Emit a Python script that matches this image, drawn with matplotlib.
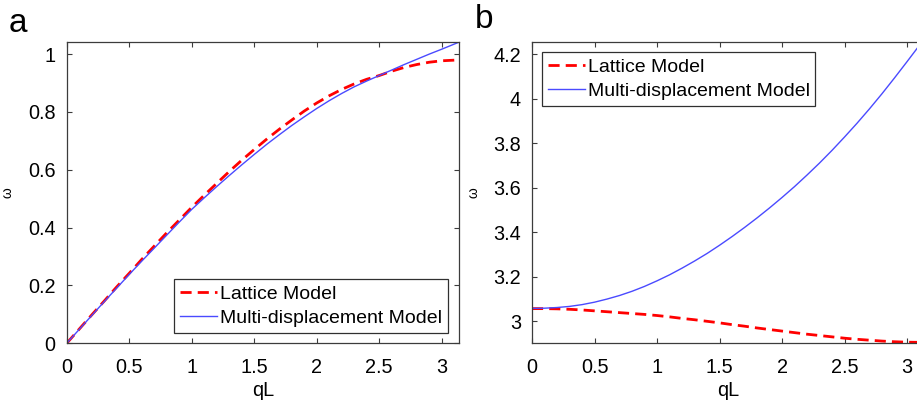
import numpy as np
import matplotlib
matplotlib.use("Agg")
import matplotlib.pyplot as plt

plt.rcParams['font.family'] = ['Liberation Sans', 'DejaVu Sans']

# ---- data ----
qL = [0.0, 0.1, 0.2, 0.3, 0.4, 0.5, 0.6, 0.7, 0.8, 0.9, 1.0, 1.1, 1.2, 1.3, 1.4, 1.5,
      1.6, 1.7, 1.8, 1.9, 2.0, 2.1, 2.2, 2.3, 2.4, 2.5, 2.6, 2.7, 2.8, 2.9, 3.0, 3.1416]

# panel a (acoustic branch)
lattice_a = [0.000, 0.049, 0.098, 0.146, 0.195, 0.242, 0.290, 0.336, 0.382, 0.426,
             0.470, 0.512, 0.553, 0.594, 0.633, 0.670, 0.706, 0.740, 0.772, 0.803,
             0.831, 0.856, 0.878, 0.897, 0.913, 0.926, 0.941, 0.954, 0.964, 0.972,
             0.977, 0.980]
multi_a = [0.000, 0.048, 0.096, 0.144, 0.191, 0.238, 0.284, 0.329, 0.374, 0.419,
           0.463, 0.503, 0.542, 0.580, 0.617, 0.653, 0.688, 0.721, 0.753, 0.783,
           0.812, 0.839, 0.864, 0.887, 0.907, 0.926, 0.945, 0.964, 0.982, 1.000,
           1.017, 1.042]

# panel b (optical branch)
lattice_b = [3.056, 3.056, 3.055, 3.053, 3.050, 3.046, 3.042, 3.038, 3.034, 3.030,
             3.025, 3.019, 3.012, 3.006, 2.999, 2.992, 2.984, 2.977, 2.969, 2.962,
             2.955, 2.948, 2.941, 2.935, 2.929, 2.923, 2.918, 2.914, 2.910, 2.907,
             2.905, 2.904]
multi_b = [3.057, 3.058, 3.061, 3.066, 3.074, 3.085, 3.099, 3.115, 3.134, 3.156,
           3.181, 3.208, 3.238, 3.270, 3.304, 3.341, 3.380, 3.421, 3.464, 3.509,
           3.556, 3.605, 3.657, 3.711, 3.768, 3.828, 3.890, 3.955, 4.023, 4.094,
           4.167, 4.272]

xticks = [0, 0.5, 1, 1.5, 2, 2.5, 3]
xticklabels = ['0', '0.5', '1', '1.5', '2', '2.5', '3']
yticks_a = [0, 0.2, 0.4, 0.6, 0.8, 1.0]
yticklabels_a = ['0', '0.2', '0.4', '0.6', '0.8', '1']
yticks_b = [3.0, 3.2, 3.4, 3.6, 3.8, 4.0, 4.2]
yticklabels_b = ['3', '3.2', '3.4', '3.6', '3.8', '4', '4.2']
labels = ['Lattice Model', 'Multi-displacement Model']
panel_letters = ['a', 'b']

W, H = 917, 401
fig = plt.figure(figsize=(W / 100, H / 100), dpi=100)

ax_w = 392.7 / W
ax_h = 301.6 / H
ax_b = (H - 343.3) / H
ax1 = fig.add_axes([66.7 / W, ax_b, ax_w, ax_h])
ax2 = fig.add_axes([532.0 / W, ax_b, ax_w, ax_h])

red = '#ff0000'
blue = '#4a4aff'
spine_c = '#3c3c3c'
fs = 14.3

def style(ax, yt, ytl, ylim):
    ax.set_xlim(0, np.pi)
    ax.set_ylim(*ylim)
    ax.set_xticks(xticks)
    ax.set_xticklabels(xticklabels)
    ax.set_yticks(yt)
    ax.set_yticklabels(ytl)
    ax.tick_params(direction='in', length=3.5, width=0.8, color=spine_c,
                   top=True, right=True, labelsize=fs)
    ax.tick_params(axis='x', pad=10.5)
    ax.tick_params(axis='y', pad=8)
    for s in ax.spines.values():
        s.set_color(spine_c)
        s.set_linewidth(0.9)
    ax.set_xlabel('qL', fontsize=fs, va='baseline')
    ax.xaxis.set_label_coords(0.5, (343.3 - 396.5) / 301.6)
    ax.set_ylabel('ω', fontsize=10)
    ax.yaxis.set_label_coords(-0.132, 0.5)

ax1.plot(qL, lattice_a, '--', color=red, lw=2.0, dashes=(4, 2.2), label=labels[0])
ax1.plot(qL, multi_a, '-', color=blue, lw=1.0, label=labels[1])
style(ax1, yticks_a, yticklabels_a, (0, 1.043))

ax2.plot(qL, lattice_b, '--', color=red, lw=2.0, dashes=(4, 2.2), label=labels[0])
ax2.plot(qL, multi_b, '-', color=blue, lw=1.0, label=labels[1])
style(ax2, yticks_b, yticklabels_b, (2.9, 4.257))

leg_kw = dict(fontsize=14.0, fancybox=False, framealpha=1, edgecolor='#303030',
              handlelength=1.9, handletextpad=0.15, labelspacing=0.35,
              borderpad=0.3, borderaxespad=0)
l1 = ax1.legend(loc='lower right', bbox_to_anchor=(0.971, 0.034), **leg_kw)
l2 = ax2.legend(loc='upper left', bbox_to_anchor=(0.025, 0.965), **leg_kw)
for l in (l1, l2):
    l.get_frame().set_linewidth(0.9)

fig.text(18 / W, 1 - 24 / H, panel_letters[0], fontsize=24, ha='center', va='center')
fig.text(484 / W, 1 - 20 / H, panel_letters[1], fontsize=24, ha='center', va='center')

fig.savefig('out.png', dpi=100)
